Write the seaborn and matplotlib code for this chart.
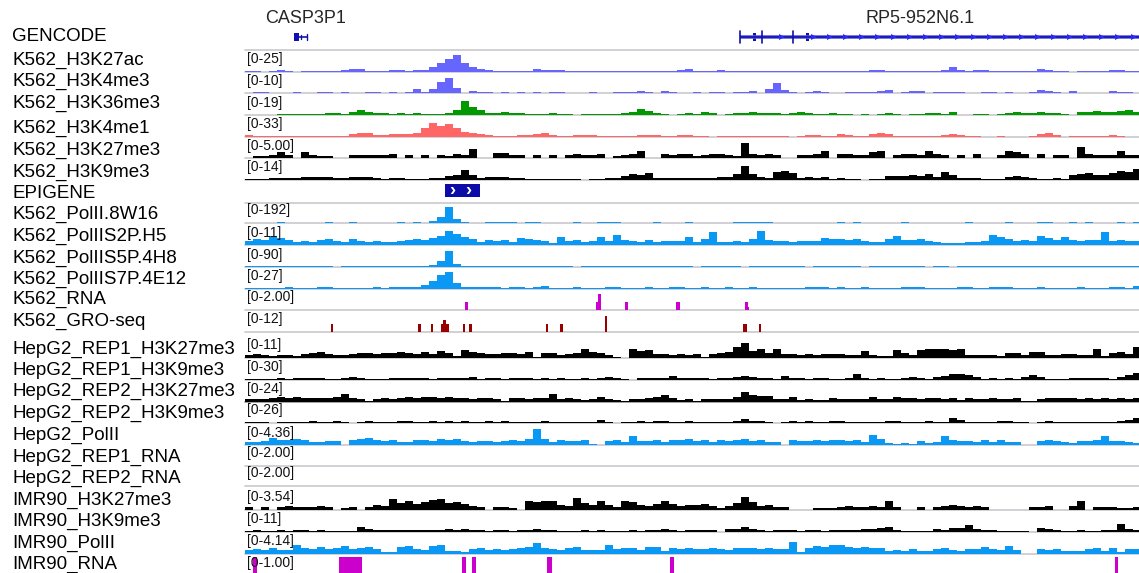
import numpy as np
import matplotlib
matplotlib.use("Agg")
import matplotlib.pyplot as plt
import seaborn as sns

sns.set_theme(style="white")
plt.rcParams['font.family'] = ['Liberation Sans', 'DejaVu Sans']

# ---------------- data (signal levels, 0-20 = track data range) ----------------
h3k27ac = [1,1,0,1,2,1,0,1,1,1, 1,1,2,3,3,1,1,1,2,2, 1,2,2,5,9,13,17,9,5,3, 2,1,1,1,1,1,3,2,
           2,2,1,1,1,1,1,1,1,1, 1,1,1,1,1,1,2,3,1,1, 1,2,1,1,1,1,1,1,1,1, 1,1,1,1,1,1,1,
           1,1,1,2,2,1,1,1,1,1, 1,1,2,5,2,1,2,2,1,1, 1,1,1,1,3,2,1,1,0,1, 1,1,1,2,2,1,1]
h3k4me3 = [0,1,1,0,0,0,1,0,0,1, 1,0,1,0,0,1,1,0,1,0, 1,4,1,4,12,16,6,0,2,1, 1,0,1,0,1,0,1,0,
           1,1,0,0,0,1,0,0,1,1, 1,2,1,0,2,1,0,0,1,0, 1,1,0,1,1,2,0,5,11,3, 1,0,1,2,1,0,0,
           1,1,1,1,2,3,0,1,2,2, 0,1,1,1,1,0,0,1,1,0, 1,0,0,1,3,2,1,0,2,0, 0,0,0,2,1,1,0]
h3k36me3 = [0,0,0,0,1,1,1,1,1,1, 2,2,1,3,5,3,2,2,1,2, 1,2,1,1,1,2,5,15,8,5, 2,2,3,2,2,1,1,1,
            2,1,1,0,1,1,1,1,1,2, 3,6,4,2,1,0,1,2,1,3, 2,0,1,2,2,3,2,2,2,1, 2,3,2,1,1,2,1,
            1,0,1,0,1,2,1,0,1,1, 2,2,1,3,0,0,1,1,0,1, 2,3,2,2,3,2,2,1,0,3, 3,4,3,3,4,5,3]
h3k4me1 = [2,1,1,1,1,1,1,1,1,1, 1,1,1,3,4,4,2,2,3,3, 3,4,9,15,11,13,9,5,4,3, 2,1,1,1,2,2,3,4,
           2,1,1,2,2,2,1,1,1,1, 1,2,2,2,1,1,2,2,1,1, 0,1,1,1,1,1,1,1,1,1, 0,1,2,2,1,1,3,
           2,1,1,3,4,3,1,1,1,1, 1,1,2,3,2,1,1,0,0,1, 0,0,0,1,3,4,2,0,1,1, 1,1,1,2,1,0,0]
k562_h3k27me3 = [0,2,2,3,7,3,0,7,3,2, 2,0,0,3,3,3,3,3,4,0, 3,0,3,0,3,2,4,3,10,0, 0,6,6,3,3,0,3,0,
                 3,0,3,4,3,3,4,0,2,3, 4,8,0,0,4,3,4,4,2,3, 4,4,3,2,16,5,3,4,3,0, 0,3,3,4,8,0,4,
                 5,3,3,7,8,0,3,5,5,3, 8,4,3,0,3,0,4,0,0,3, 8,7,4,0,5,0,3,3,0,12, 4,3,3,3,8,3,3]
k562_h3k9me3 = [1,1,1,2,2,2,2,3,3,3, 3,2,2,3,3,3,2,1,2,2, 1,1,1,2,2,4,5,11,5,2, 3,3,3,2,2,1,1,1,
                1,1,1,1,0,1,1,2,2,4, 6,5,7,2,2,2,2,2,2,2, 2,3,3,6,15,6,3,2,8,9, 7,2,3,2,3,1,2,
                1,1,0,1,1,4,4,4,5,4, 6,3,8,5,2,2,2,1,1,1, 3,4,3,2,1,1,2,1,5,6, 7,5,5,7,9,8,12]
pol2_8w16 = [0,0,0,0,1,0,0,0,0,0, 1,0,0,1,0,0,0,0,0,1, 0,1,0,2,6,17,4,1,0,0, 1,1,1,1,0,1,1,0,
             0,0,0,1,0,0,1,1,1,0, 0,0,0,1,0,0,0,1,0,0, 0,0,0,1,1,1,1,1,0,0, 0,0,0,0,0,0,1,
             0,1,0,0,0,0,0,1,0,0, 0,0,0,0,0,1,0,0,0,0, 1,0,0,0,1,1,0,0,1,0, 1,0,0,0,1,0,1]
pol2_s2p = [4,6,5,9,7,5,3,4,3,5, 6,4,3,6,4,3,4,3,3,4, 5,6,5,7,10,15,12,8,6,3, 5,4,5,3,7,6,5,4,
            2,8,4,5,3,4,8,4,11,5, 4,3,5,3,4,4,4,8,3,6, 14,3,3,4,3,6,15,5,4,4, 3,4,4,4,7,6,6,
            5,6,4,3,3,6,9,5,5,6, 4,3,2,2,2,3,3,4,11,8, 6,4,5,4,10,7,5,8,5,4, 5,5,14,4,5,4,4]
pol2_s5p = [1,1,1,1,1,1,1,1,1,1, 1,0,1,1,1,1,1,1,1,1, 1,1,1,2,6,17,3,1,1,1, 1,1,1,1,1,1,1,1,
            1,1,1,0,1,1,1,1,1,1, 1,1,1,1,1,1,1,1,0,1, 1,1,1,1,0,1,1,1,1,1, 1,1,0,1,1,1,1,
            1,1,0,1,1,1,1,1,1,1, 0,1,1,0,1,1,1,1,1,1, 1,1,1,1,1,1,1,1,1,1, 1,1,1,1,1,1,1]
pol2_s7p = [1,1,1,1,1,2,1,1,1,2, 2,1,1,1,1,1,2,1,2,2, 2,2,4,8,14,17,6,2,2,2, 2,2,1,2,2,1,2,3,
            1,1,1,2,1,1,1,2,2,1, 1,1,2,1,1,2,2,1,1,2, 1,1,2,1,1,2,1,1,1,1, 1,1,2,2,2,1,2,
            1,1,2,1,1,1,1,2,2,2, 1,1,1,1,2,2,1,1,2,2, 2,1,1,1,2,1,1,1,1,2, 1,1,1,2,2,1,3]
hepg2_r1_k27 = [3,4,3,2,3,3,2,4,5,6, 4,3,3,4,5,5,4,5,5,6, 5,4,6,4,7,5,2,8,6,5, 4,4,5,5,4,6,1,5,
                5,3,4,5,9,6,5,3,1,0, 10,7,8,4,4,3,4,3,4,1, 4,5,6,12,16,7,10,5,10,4, 4,3,4,3,4,4,4,
                3,3,7,3,2,2,8,5,3,8, 10,9,9,8,9,3,3,3,3,2, 5,5,3,6,6,3,3,4,4,3, 3,9,2,5,6,4,12]
hepg2_r1_k9 = [1,1,1,1,2,1,2,2,2,2, 1,1,2,3,2,1,1,1,2,2, 2,2,2,1,2,2,2,2,3,1, 2,2,1,2,2,2,1,2,
               1,2,1,1,2,1,2,3,2,1, 0,2,2,2,2,4,2,2,2,2, 1,2,2,3,4,3,2,2,1,4, 2,2,1,2,2,1,1,
               2,6,2,1,2,1,1,2,3,2, 1,3,4,6,6,5,3,1,2,1, 2,1,3,5,3,1,1,1,2,2, 2,2,2,1,3,5,7]
hepg2_r2_k27 = [3,3,3,4,5,4,5,4,4,4, 4,5,8,4,3,1,3,4,3,4, 5,4,5,5,4,5,4,4,3,4, 4,3,1,4,4,3,4,4,
                8,3,4,3,2,3,5,3,2,1, 3,3,4,5,7,4,2,3,1,3, 3,3,3,5,10,7,6,6,3,3, 5,2,3,2,2,4,3,
                3,3,3,5,3,3,5,4,4,3, 4,4,3,4,2,4,3,3,4,3, 3,4,1,1,3,4,4,4,4,3, 4,3,4,3,4,3,4]
hepg2_r2_k9 = [1,1,1,0,1,1,1,1,2,1, 1,2,1,0,1,2,1,1,1,2, 2,1,1,2,1,2,1,2,1,1, 2,1,2,1,1,1,1,2,
               1,1,1,1,1,1,3,1,0,1, 1,2,1,2,2,1,1,2,1,1, 1,1,1,2,4,2,2,1,0,1, 2,1,2,1,1,2,2,
               1,1,1,1,1,2,2,1,1,1, 2,1,1,5,3,1,1,1,1,2, 2,1,1,0,1,2,1,1,1,1, 1,1,1,1,2,3,5]
hepg2_pol2 = [3,3,4,7,5,5,6,5,3,3, 4,4,0,5,6,7,5,4,5,3, 3,5,5,4,6,5,6,4,3,4, 4,3,4,5,4,6,17,6,
              3,5,4,4,5,1,0,4,5,3, 10,4,4,5,3,5,5,6,4,5, 3,5,4,5,6,4,5,3,3,0, 5,4,4,5,4,5,5,
              4,5,3,11,6,2,1,2,1,4, 2,3,10,5,4,4,3,5,3,5, 3,3,0,0,4,5,4,3,2,4, 4,5,10,4,4,3,2]
imr90_k27 = [3,0,3,0,3,4,3,3,3,4, 3,0,2,3,0,3,5,4,12,7, 9,6,8,11,12,7,8,6,4,3, 0,3,3,2,0,9,8,10,
             9,5,4,13,7,5,9,5,3,10, 8,5,4,6,10,6,4,5,5,6, 4,2,4,7,14,8,4,5,3,3, 0,0,0,2,2,2,3,
             4,3,3,4,3,10,3,0,0,3, 0,3,4,5,4,3,4,3,0,0, 0,0,0,3,3,4,0,0,4,9, 0,3,3,3,2,2,3]
imr90_k9 = [1,2,1,1,2,1,2,2,1,2, 1,1,1,1,5,3,2,2,2,2, 2,2,2,2,2,3,2,3,2,2, 1,2,2,1,2,2,3,2,
            2,1,1,1,2,1,2,1,1,1, 2,1,2,2,3,2,1,2,2,2, 2,0,3,3,5,3,2,1,2,2, 2,1,2,2,1,2,2,
            2,2,3,3,4,5,2,1,1,1, 1,3,2,4,4,7,3,2,2,1, 1,1,1,0,4,3,2,1,1,2, 1,1,2,2,8,3,2]
imr90_pol2 = [4,5,4,6,4,4,10,6,5,7, 5,6,8,5,6,7,5,2,2,7, 8,5,4,8,9,3,3,2,5,6, 4,5,4,5,6,7,12,6,
              5,4,6,7,4,4,4,9,5,6, 6,4,7,7,3,6,5,6,5,5, 6,5,4,6,6,6,5,6,5,5, 13,2,6,8,7,9,10,
              7,6,7,6,6,3,4,3,5,3, 3,5,6,4,3,5,5,7,5,4, 8,4,0,0,5,4,5,3,3,3, 5,6,3,6,2,5,5]

# sparse interval tracks (start, end in bin units; level 0-20)
k562_rna_start = [27.5, 43.9, 44.1, 47.5, 53.9, 62.5, 62.9]
k562_rna_end = [27.9, 44.5, 44.5, 47.9, 54.4, 62.9, 63.0]
k562_rna_level = [8, 8, 17, 8, 8, 8, 3]
gro_start = [10.75, 21.6, 23.25, 24.5, 24.75, 27.25, 28.0, 37.6, 39.4, 45.0, 62.25, 64.25]
gro_end = [11.0, 22.0, 23.5, 25.5, 25.1, 27.5, 28.4, 37.9, 39.75, 45.25, 62.75, 64.5]
gro_level = [8, 8, 8, 8, 13, 8, 8, 8, 8, 17, 8, 8]
imr90_rna_start = [0.96, 11.75, 27.1, 28.4, 37.75, 53.1, 108.75]
imr90_rna_end = [1.54, 14.6, 27.6, 28.9, 38.4, 53.6, 109.1]
imr90_rna_level = [20, 20, 20, 20, 20, 20, 20]

# gene annotations
casp_thick = (6.1, 6.75)
casp_span = (6.1, 7.75)
rp5_span = (61.9, 112.5)
rp5_thin_exons = [61.9, 64.6, 68.5]
rp5_thick_start = [63.5, 70.1]
rp5_thick_end = [63.9, 70.5]
epigene = (25.0, 29.4)

track_names = ["GENCODE", "K562_H3K27ac", "K562_H3K4me3", "K562_H3K36me3", "K562_H3K4me1",
               "K562_H3K27me3", "K562_H3K9me3", "EPIGENE", "K562_PolII.8W16", "K562_PolIIS2P.H5",
               "K562_PolIIS5P.4H8", "K562_PolIIS7P.4E12", "K562_RNA", "K562_GRO-seq",
               "HepG2_REP1_H3K27me3", "HepG2_REP1_H3K9me3", "HepG2_REP2_H3K27me3", "HepG2_REP2_H3K9me3",
               "HepG2_PolII", "HepG2_REP1_RNA", "HepG2_REP2_RNA", "IMR90_H3K27me3", "IMR90_H3K9me3",
               "IMR90_PolII", "IMR90_RNA"]
range_labels = [None, "[0-25]", "[0-10]", "[0-19]", "[0-33]", "[0-5.00]", "[0-14]", None,
                "[0-192]", "[0-11]", "[0-90]", "[0-27]", "[0-2.00]", "[0-12]",
                "[0-11]", "[0-30]", "[0-24]", "[0-26]", "[0-4.36]", "[0-2.00]", "[0-2.00]",
                "[0-3.54]", "[0-11]", "[0-4.14]", "[0-1.00]"]

# ---------------- layout ----------------
W, H = 1139, 573
fig = plt.figure(figsize=(W / 100, H / 100), dpi=100)
X0, XW, NB = 245, 896, 112

name_y = [35, 59, 80, 102, 127, 149, 171, 192, 213, 235, 257, 278, 298, 320,
          348, 369, 390, 412, 434, 456, 477, 499, 520, 542, 563]
baselines = [50, 71.5, 93.3, 115, 136.8, 158.3, 180, 203, 223, 245, 267, 288.5, 310, 332,
             358, 379.5, 401.5, 422.5, 445, 465.5, 485.5, 510, 532, 554, 576]

BLUE = "#6666ff"
GREEN = "#009900"
RED = "#ff6666"
BLACK = "#000000"
POL = "#0a98f5"
MAG = "#cc00cc"
GRO = "#990000"
GENE = "#1010b0"
LINE = "#cdcdd2"


def track_axes(baseline, height=19, ymax=20, line=LINE):
    ax = fig.add_axes([X0 / W, 1 - baseline / H, XW / W, height / H])
    ax.set_xlim(0, NB)
    ax.set_ylim(0, ymax)
    ax.axis('off')
    ax.axhline(0, color=line, lw=1.3, clip_on=False, zorder=0)
    return ax


def dense(ax, vals, color):
    pos = np.arange(len(vals)) + 0.5
    sns.barplot(x=pos, y=vals, native_scale=True, width=1, color=color, linewidth=0,
                errorbar=None, orient='x', ax=ax, saturation=1)
    ax.set_xlim(0, NB)
    ax.set_ylim(0, 20)
    ax.axis('off')


def sparse(ax, starts, ends, levels, color):
    s = np.array(starts)
    e = np.array(ends)
    ax.bar(s, levels, width=e - s, align='edge', color=color, linewidth=0)


dense_tracks = {1: (h3k27ac, BLUE), 2: (h3k4me3, BLUE), 3: (h3k36me3, GREEN), 4: (h3k4me1, RED),
                5: (k562_h3k27me3, BLACK), 6: (k562_h3k9me3, BLACK), 8: (pol2_8w16, POL),
                9: (pol2_s2p, POL), 10: (pol2_s5p, POL), 11: (pol2_s7p, POL),
                14: (hepg2_r1_k27, BLACK), 15: (hepg2_r1_k9, BLACK), 16: (hepg2_r2_k27, BLACK),
                17: (hepg2_r2_k9, BLACK), 18: (hepg2_pol2, POL), 21: (imr90_k27, BLACK),
                22: (imr90_k9, BLACK), 23: (imr90_pol2, POL)}

for i, name in enumerate(track_names):
    fig.text(12 / W, 1 - (name_y[i] + 6) / H, name, va='baseline', ha='left', fontsize=13.5,
             color='black')
    if range_labels[i]:
        fig.text(247 / W, 1 - (baselines[i] - 12.5) / H, range_labels[i], va='center', ha='left',
                 fontsize=10, color='#111111', zorder=5)
    if i == 0:
        continue
    if i == 7:
        ax = track_axes(baselines[i], height=21, ymax=21)
        ax.bar([epigene[0]], [13], bottom=[6], width=[epigene[1] - epigene[0]], align='edge',
               color="#0b0ba8", linewidth=0)
        for cx in (25.85, 27.95):
            ax.text(cx, 12.3, "\u203a", color='white', fontsize=13, fontweight='bold',
                    ha='center', va='center')
        continue
    ax = track_axes(baselines[i], line=("#9a9a9a" if i == 16 else LINE))
    if i in dense_tracks:
        vals, col = dense_tracks[i]
        dense(ax, vals, col)
    elif i == 12:
        sparse(ax, k562_rna_start, k562_rna_end, k562_rna_level, MAG)
    elif i == 13:
        sparse(ax, gro_start, gro_end, gro_level, GRO)
    elif i == 24:
        sparse(ax, imr90_rna_start, imr90_rna_end, imr90_rna_level, MAG)

# ---------------- GENCODE track ----------------
gax = track_axes(50, height=30, ymax=30)
gax.plot([casp_span[0], casp_span[1]], [13, 13], color=GENE, lw=1.2, solid_capstyle='butt')
gax.bar([casp_thick[0]], [8], bottom=[9], width=[casp_thick[1] - casp_thick[0]], align='edge',
        color=GENE, linewidth=0)
gax.plot([casp_span[1], casp_span[1]], [10, 16], color=GENE, lw=1.0)
gax.plot([7.0, 7.0], [11, 15], color=GENE, lw=1.0)
gax.text(7.6, 32, "CASP3P1", ha='center', va='center', fontsize=13, clip_on=False)

gax.plot([rp5_span[0], rp5_span[1]], [13, 13], color="#5a5ad8", lw=2.6, solid_capstyle='butt')
gax.plot([rp5_span[0], rp5_span[1]], [13, 13], color=GENE, lw=1.2, solid_capstyle='butt')
for xe in rp5_thin_exons:
    gax.plot([xe, xe], [7, 19], color=GENE, lw=1.2)
for s, e in zip(rp5_thick_start, rp5_thick_end):
    gax.bar([s], [8], bottom=[9], width=[e - s], align='edge', color=GENE, linewidth=0)
arrow_x = [a for a in np.arange(63.1, 112, 2.0)
           if all(abs(a - b) > 0.6 for b in rp5_thin_exons + rp5_thick_start)]
gax.plot(arrow_x, [13] * len(arrow_x), linestyle='none', marker='>', markersize=5,
         color="#2a2aff", markeredgewidth=0)
gax.text(84.4, 32, "RP5-952N6.1", ha='center', va='center', fontsize=13, clip_on=False)

fig.savefig("out.png", dpi=100, facecolor='white')
